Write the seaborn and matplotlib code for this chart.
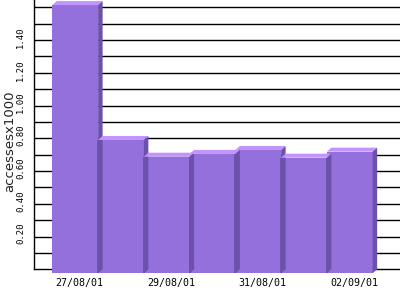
import numpy as np
import pandas as pd
import matplotlib
matplotlib.use("Agg")
import matplotlib.pyplot as plt
import seaborn as sns
from matplotlib.transforms import ScaledTranslation
from matplotlib.patches import Polygon

dates = ["27/08/01", "28/08/01", "29/08/01", "30/08/01", "31/08/01", "01/09/01", "02/09/01"]
values = [1.638, 0.814, 0.712, 0.729, 0.753, 0.706, 0.743]
ytick_vals = [0.2, 0.4, 0.6, 0.8, 1.0, 1.2, 1.4]
grid_vals = [0.1 * i for i in range(1, 17)]
shown_dates = ["27/08/01", "29/08/01", "31/08/01", "02/09/01"]

FRONT = "#9370DB"
TOP = "#C394FF"
SIDE = "#6B51A9"
DX, DY = 4.5, 4.0  # depth in pixels

sns.set_theme(style="white")
plt.rcParams["font.family"] = ["DejaVu Sans"]

fig = plt.figure(figsize=(4, 3), dpi=100)
ax = fig.add_axes([34 / 400, (300 - 269.3) / 300, 366 / 400, 269.3 / 300])

df = pd.DataFrame({"date": dates, "value": values})
sns.barplot(data=df, x="date", y="value", color=FRONT, width=1.0, saturation=1,
            ax=ax, zorder=3)

ax.set_xlim(-1, 7)
ax.set_ylim(0, 269.3 / 163.75)

off = ax.transData + ScaledTranslation(-DX / 100, -DY / 100, fig.dpi_scale_trans)
for p in ax.patches:
    p.set_transform(off)
    p.set_edgecolor("none")
    p.set_clip_on(False)
    p.set_zorder(3)

# 3D top & side faces (display coords derived from bar patches)
bars = list(ax.patches)
for i, p in enumerate(bars):
    x0, x1, h = p.get_x(), p.get_x() + p.get_width(), p.get_height()
    (bx0, bh), (bx1, _) = ax.transData.transform([(x0, h), (x1, h)])
    _, b0 = ax.transData.transform((x1, 0))
    top = Polygon([(bx0 - DX, bh - DY), (bx1 - DX, bh - DY), (bx1, bh), (bx0, bh)],
                  closed=True, transform=None, facecolor=TOP, edgecolor="none",
                  zorder=3 + 0.01 * i, clip_on=False)
    side = Polygon([(bx1 - DX, b0 - DY), (bx1, b0), (bx1, bh), (bx1 - DX, bh - DY)],
                   closed=True, transform=None, facecolor=SIDE, edgecolor="none",
                   zorder=3 + 0.01 * i, clip_on=False)
    fig.add_artist(top)
    fig.add_artist(side)
    p.set_zorder(3 + 0.01 * i + 0.005)
    if i < len(bars) - 1:
        hn = min(h, bars[i + 1].get_height())
        ax.vlines(x1, 0, hn, colors=SIDE, linewidth=1.3, transform=off,
                  zorder=3 + 0.01 * (i + 1) + 0.008, clip_on=False)

# grid
for g in grid_vals:
    ax.axhline(g, color="black", linewidth=1.0, zorder=1)

for s in ["top", "right"]:
    ax.spines[s].set_visible(False)
for s in ["left", "bottom"]:
    ax.spines[s].set_color("black")
    ax.spines[s].set_linewidth(1.0)
    ax.spines[s].set_zorder(1)

ax.set_yticks(ytick_vals)
ax.set_yticklabels([f"{v:.2f}" for v in ytick_vals], rotation=90, va="center",
                   fontsize=6.4, family="DejaVu Sans Mono", color="black")
ax.set_xticks([dates.index(d) for d in shown_dates])
ax.set_xticklabels(shown_dates, fontsize=7.2, family="DejaVu Sans Mono", color="black")
ax.tick_params(axis="both", length=0)
ax.tick_params(axis="y", pad=6.3)
ax.tick_params(axis="x", pad=6)
for lab in ax.get_yticklabels():
    lab.set_transform(lab.get_transform() + ScaledTranslation(0, 3 / 100, fig.dpi_scale_trans))

ax.set_xlabel("")
ax.set_ylabel("")
fig.text(9.5 / 400, 1 - 141 / 300, "accessesx1000", rotation=90, ha="center", va="center",
         fontsize=9.5, color="#222222")

fig.savefig("out.png", dpi=100)
